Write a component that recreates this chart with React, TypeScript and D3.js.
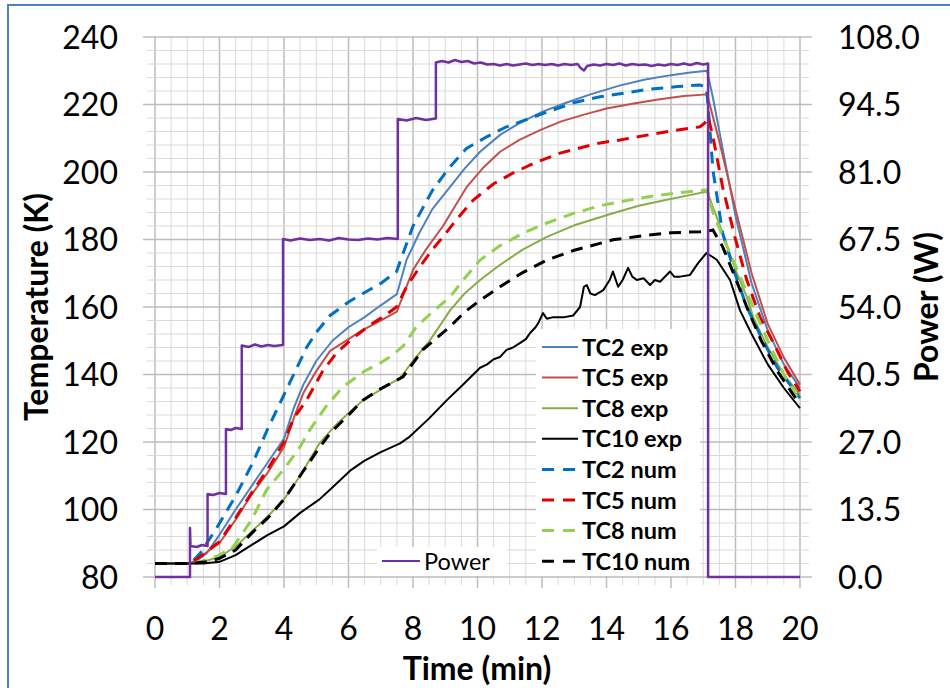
import React from "react";
import * as d3 from "d3";

type P = [number, number];

const timeTicks = [0, 2, 4, 6, 8, 10, 12, 14, 16, 18, 20];
const tempTicks = [80, 100, 120, 140, 160, 180, 200, 220, 240];
const powerTicks = [0, 13.5, 27, 40.5, 54, 67.5, 81, 94.5, 108];

const tc2Exp: P[] = [[0,84],[1.1,84],[1.3,85],[1.6,87],[2.0,92.5],[2.5,100],[3.0,107],[3.5,114],[4.0,121],[4.3,130],[4.6,137],[5.0,144],[5.5,150],[6.0,154],[6.5,157],[7.0,160.5],[7.5,163.8],[7.8,174],[8.2,182],[8.6,189],[9.15,195.6],[9.6,201],[10.08,206],[10.7,211],[11.3,214.5],[12.0,217.8],[12.77,220.6],[13.5,223],[14.4,225.6],[15.2,227.4],[16.0,228.7],[16.6,229.5],[17.12,230],[17.3,222],[17.6,207],[18.0,187],[18.5,167],[19.0,153],[19.5,143],[20,136]];
const tc5Exp: P[] = [[0,84],[1.1,84],[1.4,86],[2.0,90],[2.5,97],[3.0,104.5],[3.5,111],[4.0,118.5],[4.3,127],[4.6,134.5],[5.0,141],[5.43,147],[6.0,150.5],[6.45,153.2],[7.0,156],[7.5,158.6],[8.0,171],[8.4,177],[8.93,184],[9.66,195.5],[10.2,201.5],[10.7,206],[11.3,209.5],[11.94,212.4],[12.6,215],[13.3,217],[14.0,218.8],[14.8,220.2],[15.6,221.5],[16.4,222.5],[17.12,223],[17.5,209],[18.0,189],[18.5,170],[19.0,155],[19.5,145],[20,137]];
const tc8Exp: P[] = [[0,84],[1.1,84],[1.5,84.5],[2.0,86],[2.5,89],[3.0,93.5],[3.5,98],[4.0,103],[4.5,110],[5.1,119.6],[5.6,125],[6.0,128.5],[6.45,132.4],[7.0,135.5],[7.6,139],[8.0,144],[8.53,150.2],[9.15,159],[9.6,164],[10.08,168],[10.7,172.5],[11.4,177],[12.15,180.8],[13.0,184.2],[14.2,187.8],[15.0,190],[15.87,191.8],[16.5,193],[17.12,194.2],[17.6,182],[18.0,171],[18.35,163],[18.55,157],[19.0,148],[19.5,140],[20,134]];
const tc10Exp: P[] = [[0,84],[1.5,84],[2.0,84.5],[2.5,86.5],[3.0,89.5],[3.5,92.5],[4.0,95],[4.5,99],[5.1,103],[5.5,106.5],[6.05,111.5],[6.5,114.5],[7.0,117],[7.6,119.6],[7.9,121.6],[8.5,127],[9.05,132.4],[9.5,136.5],[10.08,142],[10.3,143],[10.5,144.5],[10.7,145.2],[10.9,147.3],[11.1,148],[11.3,149.2],[11.5,150.5],[11.63,152.3],[11.8,154],[11.9,155.5],[12.03,158.2],[12.15,156.5],[12.35,157],[12.7,157],[12.97,157.5],[13.18,160],[13.3,166],[13.39,166.5],[13.5,164],[13.64,163.5],[13.9,165],[14.1,168],[14.2,170.5],[14.36,166],[14.5,168],[14.67,171.6],[14.8,169],[14.94,168],[15.15,168.5],[15.35,166.5],[15.5,168],[15.66,167.5],[15.97,170.5],[16.1,169],[16.28,169],[16.59,169.5],[16.84,173],[17.1,176],[17.42,174],[17.83,168],[18.14,159],[18.5,152],[19.0,143],[19.5,136],[20,130]];
const tc2Num: P[] = [[0,84],[1.1,84],[1.4,87],[1.91,94.5],[2.5,104],[3.04,114],[3.5,124],[4.0,134],[4.4,142],[4.7,148],[5.0,152.5],[5.43,157.5],[6.0,161.5],[6.45,164],[7.0,167],[7.49,170.5],[8.0,184],[8.6,194.5],[9.1,201],[9.66,207],[10.3,210.5],[10.9,213.4],[11.94,217],[12.97,220.5],[13.8,222.3],[14.42,223.2],[15.3,224.5],[16.2,225.3],[16.9,225.8],[17.1,225],[17.2,213.4],[17.3,200.6],[17.6,181.9],[17.98,170],[18.35,160],[18.8,151],[19.3,142],[20,133]];
const tc5Num: P[] = [[0,84],[1.1,84],[1.4,86],[2.0,90.5],[2.5,97.5],[3.0,105],[3.5,112],[4.0,120],[4.3,127],[4.7,132.4],[5.2,141],[5.63,146.4],[6.1,150.5],[6.67,154.7],[7.1,157.3],[7.49,160],[7.8,166],[8.22,172],[8.6,177],[8.93,180.8],[9.4,186.5],[9.87,191.7],[10.5,196.5],[11.1,199.7],[11.8,202.8],[12.56,205.6],[13.2,207.2],[13.8,208.6],[14.42,209.5],[15.3,211],[16.1,212.3],[16.9,213.4],[17.05,214.5],[17.15,216.4],[17.3,210.5],[17.6,195.6],[17.98,180.8],[18.35,168],[18.76,157],[19.2,149],[19.6,141],[20,135]];
const tc8Num: P[] = [[0,84],[1.1,84],[1.6,85],[2.0,86.5],[2.43,89],[3.0,97],[3.46,105.8],[4.0,112],[4.5,118.6],[4.8,123.6],[5.3,130.5],[5.83,136.4],[6.5,141],[7.0,143.5],[7.4,146],[7.7,148.5],[8.11,154.2],[8.6,158.5],[9.15,163],[9.6,168.5],[10.08,173.9],[10.7,178.2],[11.4,181.8],[12.15,184.9],[13.0,187.8],[13.8,190],[14.6,191.5],[15.4,192.8],[16.2,193.8],[17.12,194.7],[17.3,188],[17.6,181],[18.1,170],[18.5,161],[19.0,150],[19.5,140],[20,132]];
const tc10Num: P[] = [[0,84],[1.1,84],[1.6,84.5],[2.0,85.5],[2.5,88],[3.0,93],[3.5,97.5],[4.0,103],[4.5,110],[5.0,117],[5.43,122.6],[6.0,128],[6.45,132.4],[7.0,135.8],[7.69,139.3],[8.3,147.3],[9.15,154.2],[9.6,158.5],[10.08,162],[10.7,166],[11.4,170.2],[12.15,173.9],[13.0,176.8],[14.2,179.9],[15.2,181.2],[16.0,182],[16.9,182.3],[17.15,182.5],[17.3,182.8],[17.6,177.9],[17.98,169],[18.35,160],[18.8,150],[19.3,141],[20,131]];

const power: P[] = [[0,0],[1.085,0],[1.085,9.8],[1.1,6.2],[1.3,6.0],[1.45,6.4],[1.63,6.2],[1.63,16.6],[1.8,16.4],[2.0,16.8],[2.2,16.6],[2.2,29.6],[2.35,29.4],[2.5,29.8],[2.69,29.6],[2.69,46.3],[2.9,46.0],[3.1,46.5],[3.3,46.1],[3.5,46.4],[3.7,46.2],[3.97,46.4],[3.97,67.6],[4.2,67.3],[4.5,67.7],[4.8,67.4],[5.1,67.6],[5.4,67.3],[5.7,67.8],[6.0,67.5],[6.3,67.4],[6.6,67.7],[6.9,67.5],[7.2,67.8],[7.53,67.6],[7.53,91.6],[7.8,91.3],[8.1,91.8],[8.4,91.4],[8.71,91.7],[8.71,102.9],[8.9,103.2],[9.1,102.9],[9.3,103.4],[9.5,103.0],[9.7,103.2],[9.9,102.7],[10.1,102.9],[10.3,102.5],[10.5,102.6],[10.7,102.3],[10.9,102.6],[11.1,102.3],[11.3,102.5],[11.5,102.7],[11.7,102.4],[11.9,102.6],[12.1,102.4],[12.3,102.6],[12.5,102.3],[12.7,102.6],[12.9,102.4],[13.1,102.6],[13.2,101.8],[13.3,101.3],[13.4,102.2],[13.6,102.5],[13.8,102.3],[14.0,102.6],[14.2,102.4],[14.4,102.7],[14.6,102.3],[14.8,102.6],[15.0,102.4],[15.2,102.5],[15.4,102.2],[15.6,102.5],[15.8,102.3],[16.0,102.6],[16.2,102.4],[16.4,102.7],[16.6,102.4],[16.8,102.8],[17.0,102.5],[17.15,102.7],[17.15,0],[20,0]];

const FONT = "Lato, 'Open Sans', sans-serif";

export default function App() {
  const W = 950, H = 688;
  const x = d3.scaleLinear().domain([0, 20]).range([155, 800]);
  const yT = d3.scaleLinear().domain([80, 240]).range([577, 37]);
  const yP = d3.scaleLinear().domain([0, 108]).range([577, 37]);

  const lineT = d3.line<P>().x(d => x(d[0])).y(d => yT(d[1]));
  const lineP = d3.line<P>().x(d => x(d[0])).y(d => yP(d[1]));

  const minorX = d3.range(0, 20.001, 0.5);
  const minorY = d3.range(80, 240.001, 4);

  const series = [
    { name: "TC2 exp", data: tc2Exp, color: "#4F81BD", dash: "", w: 2 },
    { name: "TC5 exp", data: tc5Exp, color: "#C0504D", dash: "", w: 2 },
    { name: "TC8 exp", data: tc8Exp, color: "#86AD4A", dash: "", w: 2 },
    { name: "TC10 exp", data: tc10Exp, color: "#000000", dash: "", w: 2 },
    { name: "TC2 num", data: tc2Num, color: "#0070C0", dash: "12,8", w: 3 },
    { name: "TC5 num", data: tc5Num, color: "#E00000", dash: "12,8", w: 3 },
    { name: "TC8 num", data: tc8Num, color: "#92D050", dash: "12,8", w: 3 },
    { name: "TC10 num", data: tc10Num, color: "#000000", dash: "12,8", w: 3 },
  ];

  const [x0, x1] = x.range();
  const [yb, yt] = yT.range();

  return (
    <svg width={W} height={H} style={{ position: "absolute", left: 0, top: 0, background: "#fff" }} fontFamily={FONT}>
      <rect x={0} y={0} width={W} height={H} fill="#fff" />
      <rect x={8} y={5} width={980} height={720} fill="none" stroke="#4F81BD" strokeWidth={2} />
      {/* minor grid */}
      {minorX.map((t, i) => {
        const major = Math.abs(t % 2) < 1e-6;
        return (
          <line key={"vx" + i} x1={x(t)} x2={x(t)} y1={yt} y2={yb + (major ? 11 : 8)}
            stroke={major ? "#BDBDBD" : "#DADADA"} strokeWidth={major ? 1.5 : 1} />
        );
      })}
      {minorY.map((v, i) => {
        const major = Math.abs((v - 80) % 20) < 1e-6;
        return (
          <line key={"hy" + i} x1={x0 - (major ? 12 : 8)} x2={x1 + (major ? 12 : 9)} y1={yT(v)} y2={yT(v)}
            stroke={major ? "#BDBDBD" : "#DADADA"} strokeWidth={major ? 1.5 : 1} />
        );
      })}
      {/* series */}
      {series.slice(0, 4).map(s => (
        <path key={s.name} d={lineT(s.data) || ""} fill="none" stroke={s.color} strokeWidth={s.w} strokeLinejoin="round" />
      ))}
      {series.slice(4).map(s => (
        <path key={s.name} d={lineT(s.data) || ""} fill="none" stroke={s.color} strokeWidth={s.w} strokeDasharray={s.dash} />
      ))}
      <path d={lineP(power) || ""} fill="none" stroke="#7030A0" strokeWidth={2.5} strokeLinejoin="round" />

      {/* legends */}
      <rect x={536} y={329} width={164} height={247} fill="#fff" />
      {series.map((s, i) => {
        const ry = 347 + i * 30.6;
        return (
          <g key={"lg" + i}>
            <line x1={542} x2={578} y1={ry} y2={ry} stroke={s.color} strokeWidth={s.w} strokeDasharray={s.dash ? "12,9" : ""} />
            <text x={582} y={ry + 8.5} fontSize={23.5} fontWeight="bold" fill="#000">{s.name}</text>
          </g>
        );
      })}
      <rect x={377} y={547} width={130} height={29} fill="#fff" />
      <line x1={382} x2={420} y1={561} y2={561} stroke="#7030A0" strokeWidth={2} />
      <text x={424} y={569.5} fontSize={23.5} fill="#000">Power</text>

      {/* tick labels */}
      {tempTicks.map(v => (
        <text key={"lt" + v} x={118} y={yT(v) + 11.5} textAnchor="end" fontSize={32} fill="#000">{v}</text>
      ))}
      {powerTicks.map(v => (
        <text key={"rt" + v} x={838} y={yP(v) + 11.5} textAnchor="start" fontSize={32} fill="#000">{v.toFixed(1)}</text>
      ))}
      {timeTicks.map(v => (
        <text key={"bt" + v} x={x(v)} y={640} textAnchor="middle" fontSize={32} fill="#000">{v}</text>
      ))}

      {/* axis titles */}
      <text x={477} y={680} textAnchor="middle" fontSize={32} fontWeight="bold" fill="#000">Time (min)</text>
      <text transform={`translate(48,307) rotate(-90)`} textAnchor="middle" fontSize={32} fontWeight="bold" fill="#000">Temperature (K)</text>
      <text transform={`translate(938,307) rotate(-90)`} textAnchor="middle" fontSize={32} fontWeight="bold" fill="#000">Power (W)</text>
    </svg>
  );
}
